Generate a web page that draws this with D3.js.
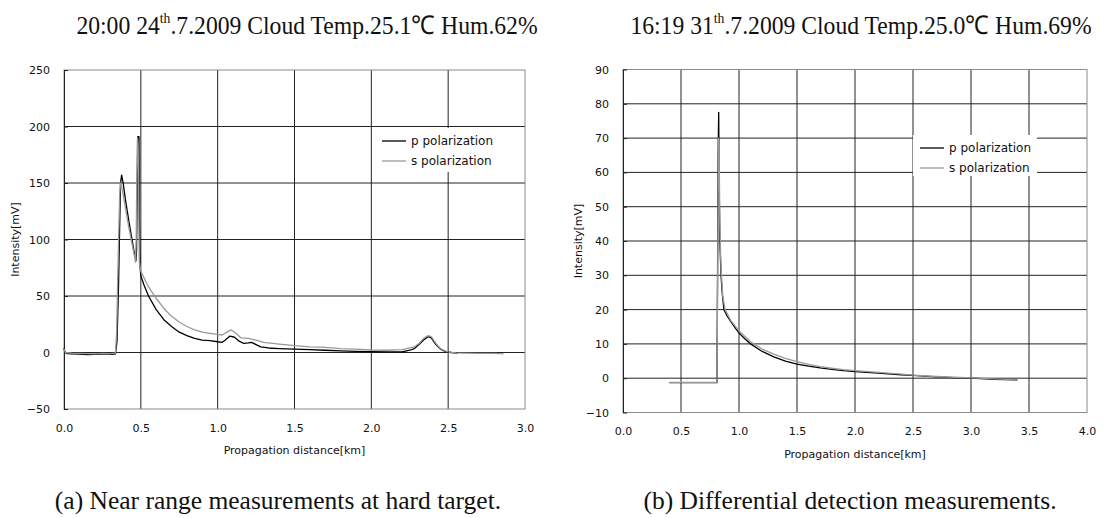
<!DOCTYPE html>
<html>
<head>
<meta charset="utf-8">
<script src="https://cdn.jsdelivr.net/npm/d3@7"></script>
<style>
  body { margin: 0; background: #fff; }
  svg { display: block; }
</style>
</head>
<body>
<svg id="fig" width="1104" height="518"></svg>
<script>
// ---- data ----
const seriesNames = ["p polarization", "s polarization"];

// (a) near range, hard target  [distance km, intensity mV]
const nearP = [
  [0.0, 4], [0.005, 1], [0.02, -1], [0.05, -1.2], [0.1, -1.5], [0.15, -1.8], [0.2, -1.6],
  [0.25, -1.5], [0.28, -1.2], [0.31, -1.6], [0.335, -1.2], [0.345, 10], [0.355, 60],
  [0.362, 110], [0.368, 150], [0.375, 157], [0.385, 150], [0.4, 135], [0.42, 118],
  [0.44, 102], [0.455, 90], [0.468, 81], [0.472, 90], [0.477, 150], [0.48, 191],
  [0.488, 191], [0.49, 120], [0.495, 75], [0.5, 68], [0.52, 60], [0.55, 50], [0.6, 38],
  [0.65, 29], [0.7, 23], [0.75, 18], [0.8, 15], [0.85, 12.5], [0.9, 11], [0.95, 10.5],
  [1.0, 9.5], [1.03, 9], [1.05, 11], [1.08, 14.5], [1.11, 13.5], [1.14, 10], [1.17, 8],
  [1.2, 8.5], [1.22, 9], [1.25, 7], [1.28, 5], [1.33, 4], [1.4, 3.5], [1.5, 3], [1.6, 2.5],
  [1.7, 2], [1.8, 1.5], [1.9, 1], [2.0, 0.8], [2.1, 0.6], [2.2, 0.5], [2.25, 2], [2.28, 3.5],
  [2.31, 7], [2.34, 11], [2.37, 14], [2.39, 13], [2.42, 7], [2.45, 3], [2.48, 1], [2.52, 0],
  [2.56, -0.5]
];
const nearS = [
  [0.0, 3], [0.01, 0], [0.05, -0.5], [0.1, -0.8], [0.15, -1], [0.2, -1.2], [0.25, -0.8],
  [0.3, -1], [0.335, -0.5], [0.343, 20], [0.35, 70], [0.357, 110], [0.362, 140], [0.368, 150],
  [0.378, 145], [0.4, 128], [0.42, 112], [0.44, 98], [0.455, 88], [0.465, 80], [0.47, 100],
  [0.474, 160], [0.478, 190], [0.482, 185], [0.486, 140], [0.49, 80], [0.5, 72], [0.55, 58],
  [0.6, 48], [0.65, 39], [0.7, 32], [0.75, 27], [0.8, 23], [0.85, 20], [0.9, 18], [0.95, 17],
  [1.0, 16], [1.03, 15.5], [1.06, 18], [1.09, 20], [1.12, 17], [1.15, 13], [1.2, 12.5],
  [1.25, 11], [1.3, 9], [1.4, 7.5], [1.5, 6], [1.6, 5], [1.7, 4.5], [1.8, 3.5], [1.9, 3],
  [2.0, 2.2], [2.1, 2], [2.2, 2.5], [2.25, 4], [2.28, 5], [2.31, 8], [2.34, 12.5], [2.37, 15],
  [2.39, 14], [2.42, 8], [2.45, 3.5], [2.48, 1.5], [2.5, 0.5], [2.55, -0.3], [2.6, -0.5],
  [2.7, -0.7], [2.8, -0.8], [2.86, -1.2]
];

// (b) differential detection
const diffP = [
  [0.4, -1.3], [0.6, -1.3], [0.81, -1.3], [0.815, 30], [0.82, 65], [0.825, 77.5], [0.828, 60],
  [0.835, 40], [0.845, 30], [0.855, 25], [0.87, 20], [0.9, 18], [0.93, 16.5], [0.97, 14.5],
  [1.0, 13.2], [1.05, 11.5], [1.1, 10], [1.2, 7.8], [1.3, 6.2], [1.4, 5], [1.5, 4.1], [1.6, 3.5],
  [1.7, 3], [1.8, 2.6], [1.9, 2.2], [2.0, 1.9], [2.2, 1.5], [2.4, 1.0], [2.5, 0.8], [2.7, 0.4],
  [2.9, 0.1], [3.0, 0], [3.2, -0.3], [3.4, -0.5]
];
const diffS = [
  [0.4, -1.2], [0.81, -1.2], [0.818, 40], [0.823, 70], [0.828, 68], [0.835, 45], [0.845, 32],
  [0.86, 24], [0.88, 20], [0.93, 16.8], [1.0, 13.8], [1.1, 10.6], [1.2, 8.5], [1.3, 7],
  [1.4, 5.8], [1.5, 4.8], [1.6, 4], [1.7, 3.4], [1.8, 2.9], [1.9, 2.5], [2.0, 2.2], [2.2, 1.7],
  [2.4, 1.2], [2.5, 0.9], [2.7, 0.5], [2.9, 0.2], [3.0, 0.1], [3.2, -0.2], [3.4, -0.5]
];

const nearXTicks = [0, 0.5, 1, 1.5, 2, 2.5, 3];
const nearYTicks = [-50, 0, 50, 100, 150, 200, 250];
const diffXTicks = [0, 0.5, 1, 1.5, 2, 2.5, 3, 3.5, 4];
const diffYTicks = [-10, 0, 10, 20, 30, 40, 50, 60, 70, 80, 90];

const svg = d3.select('#fig');
const sans = '"DejaVu Sans", "Noto Sans", sans-serif';
const serif = '"Liberation Serif", "Times New Roman", serif';
const lineColors = ['#000', '#999'];

function drawChart(cfg) {
  const x = d3.scaleLinear().domain(d3.extent(cfg.xTicks)).range([cfg.left, cfg.right]);
  const y = d3.scaleLinear().domain(d3.extent(cfg.yTicks)).range([cfg.bottom, cfg.top]);
  const g = svg.append('g');

  // grid
  g.selectAll('.vgrid').data(cfg.xTicks.slice(1, -1)).enter()
    .append('line')
    .attr('x1', d => x(d)).attr('x2', d => x(d))
    .attr('y1', cfg.top).attr('y2', cfg.bottom)
    .attr('stroke', '#222').attr('stroke-width', 1);
  g.selectAll('.hgrid').data(cfg.yTicks.slice(1, -1)).enter()
    .append('line')
    .attr('x1', cfg.left).attr('x2', cfg.right)
    .attr('y1', d => y(d)).attr('y2', d => y(d))
    .attr('stroke', '#222').attr('stroke-width', 1);

  // frame, gray
  g.append('rect')
    .attr('x', cfg.left).attr('y', cfg.top)
    .attr('width', cfg.right - cfg.left).attr('height', cfg.bottom - cfg.top)
    .attr('fill', 'none').attr('stroke', '#8a8a8a');

  const yAxis = d3.axisLeft(y).tickValues(cfg.yTicks).tickSizeInner(4).tickSizeOuter(0)
    .tickFormat(d => d < 0 ? '\u2212' + Math.abs(d) : d);
  g.append('g').attr('transform', `translate(${cfg.left},0)`).call(yAxis)
    .call(a => a.select('.domain').attr('stroke', '#222'))
    .call(a => a.selectAll('.tick line').attr('x2', 4).attr('stroke', '#222'))
    .call(a => a.selectAll('text').attr('x', -14).attr('font-family', sans)
      .attr('font-size', 11).attr('fill', '#111'));

  const xAxis = d3.axisBottom(x).tickValues(cfg.xTicks).tickSize(0).tickFormat(d3.format('.1f'));
  g.append('g').attr('transform', `translate(0,${cfg.bottom})`).call(xAxis)
    .call(a => a.select('.domain').remove())
    .call(a => a.selectAll('text').attr('y', 19).attr('dy', '0.35em').attr('font-family', sans)
      .attr('font-size', 11).attr('fill', '#111'));

  // series
  const line = d3.line().x(d => x(d[0])).y(d => y(d[1]));
  cfg.series.forEach((s, i) => {
    g.append('path').datum(s)
      .attr('d', line)
      .attr('fill', 'none')
      .attr('stroke', lineColors[i])
      .attr('stroke-width', 1.3)
      .attr('stroke-linejoin', 'round');
  });

  // legend
  const lg = cfg.legend;
  g.append('rect').attr('x', lg.x).attr('y', lg.y).attr('width', lg.w).attr('height', lg.h)
    .attr('fill', '#fff');
  seriesNames.forEach((name, i) => {
    const ly = lg.y + 13 + i * 20;
    g.append('line')
      .attr('x1', lg.x + 7).attr('x2', lg.x + 31)
      .attr('y1', ly).attr('y2', ly)
      .attr('stroke', lineColors[i]).attr('stroke-width', 1.3);
    g.append('text')
      .attr('x', lg.x + 36).attr('y', ly)
      .attr('dy', '0.35em')
      .attr('font-family', sans).attr('font-size', 12)
      .attr('fill', '#111')
      .text(name);
  });

  // axis titles
  g.append('text')
    .attr('x', (cfg.left + cfg.right) / 2).attr('y', cfg.bottom + 41.5)
    .attr('dy', '0.35em')
    .attr('text-anchor', 'middle')
    .attr('font-family', sans).attr('font-size', 11).attr('fill', '#111')
    .text('Propagation distance[km]');
  const yt = (cfg.top + cfg.bottom) / 2;
  g.append('text')
    .attr('transform', `translate(${cfg.ytx},${yt}) rotate(-90)`)
    .attr('text-anchor', 'middle').attr('dy', '0.35em')
    .attr('font-family', sans).attr('font-size', 11).attr('fill', '#111')
    .text('Intensity[mV]');

  // title with superscript, slightly condensed like the scanned figure
  const t = g.append('text')
    .attr('transform', `translate(${cfg.titleX},34) scale(0.91,1)`)
    .attr('text-anchor', 'middle')
    .attr('font-family', serif).attr('font-size', 26).attr('fill', '#111');
  t.append('tspan').text(cfg.title[0]);
  t.append('tspan').attr('font-size', 15).attr('dy', -11).text('th');
  t.append('tspan').attr('dy', 11).text(cfg.title[1]);

  g.append('text')
    .attr('x', cfg.captionX).attr('y', 509)
    .attr('text-anchor', 'middle')
    .attr('font-family', serif).attr('font-size', 25.5).attr('fill', '#111')
    .text(cfg.caption);
}

drawChart({
  left: 64, right: 525, top: 70, bottom: 409,
  xTicks: nearXTicks, yTicks: nearYTicks,
  series: [nearP, nearS],
  legend: { x: 375, y: 128, w: 125, h: 44 },
  ytx: 15,
  title: ['20:00 24', '.7.2009 Cloud Temp.25.1\u2103 Hum.62%'],
  titleX: 307,
  caption: '(a) Near range measurements at hard target.',
  captionX: 278
});

drawChart({
  left: 623, right: 1087, top: 69.5, bottom: 412.5,
  xTicks: diffXTicks, yTicks: diffYTicks,
  series: [diffP, diffS],
  legend: { x: 913, y: 135, w: 124, h: 41 },
  ytx: 578,
  title: ['16:19 31', '.7.2009 Cloud Temp.25.0\u2103 Hum.69%'],
  titleX: 861,
  caption: '(b) Differential detection measurements.',
  captionX: 850
});
</script>
</body>
</html>
